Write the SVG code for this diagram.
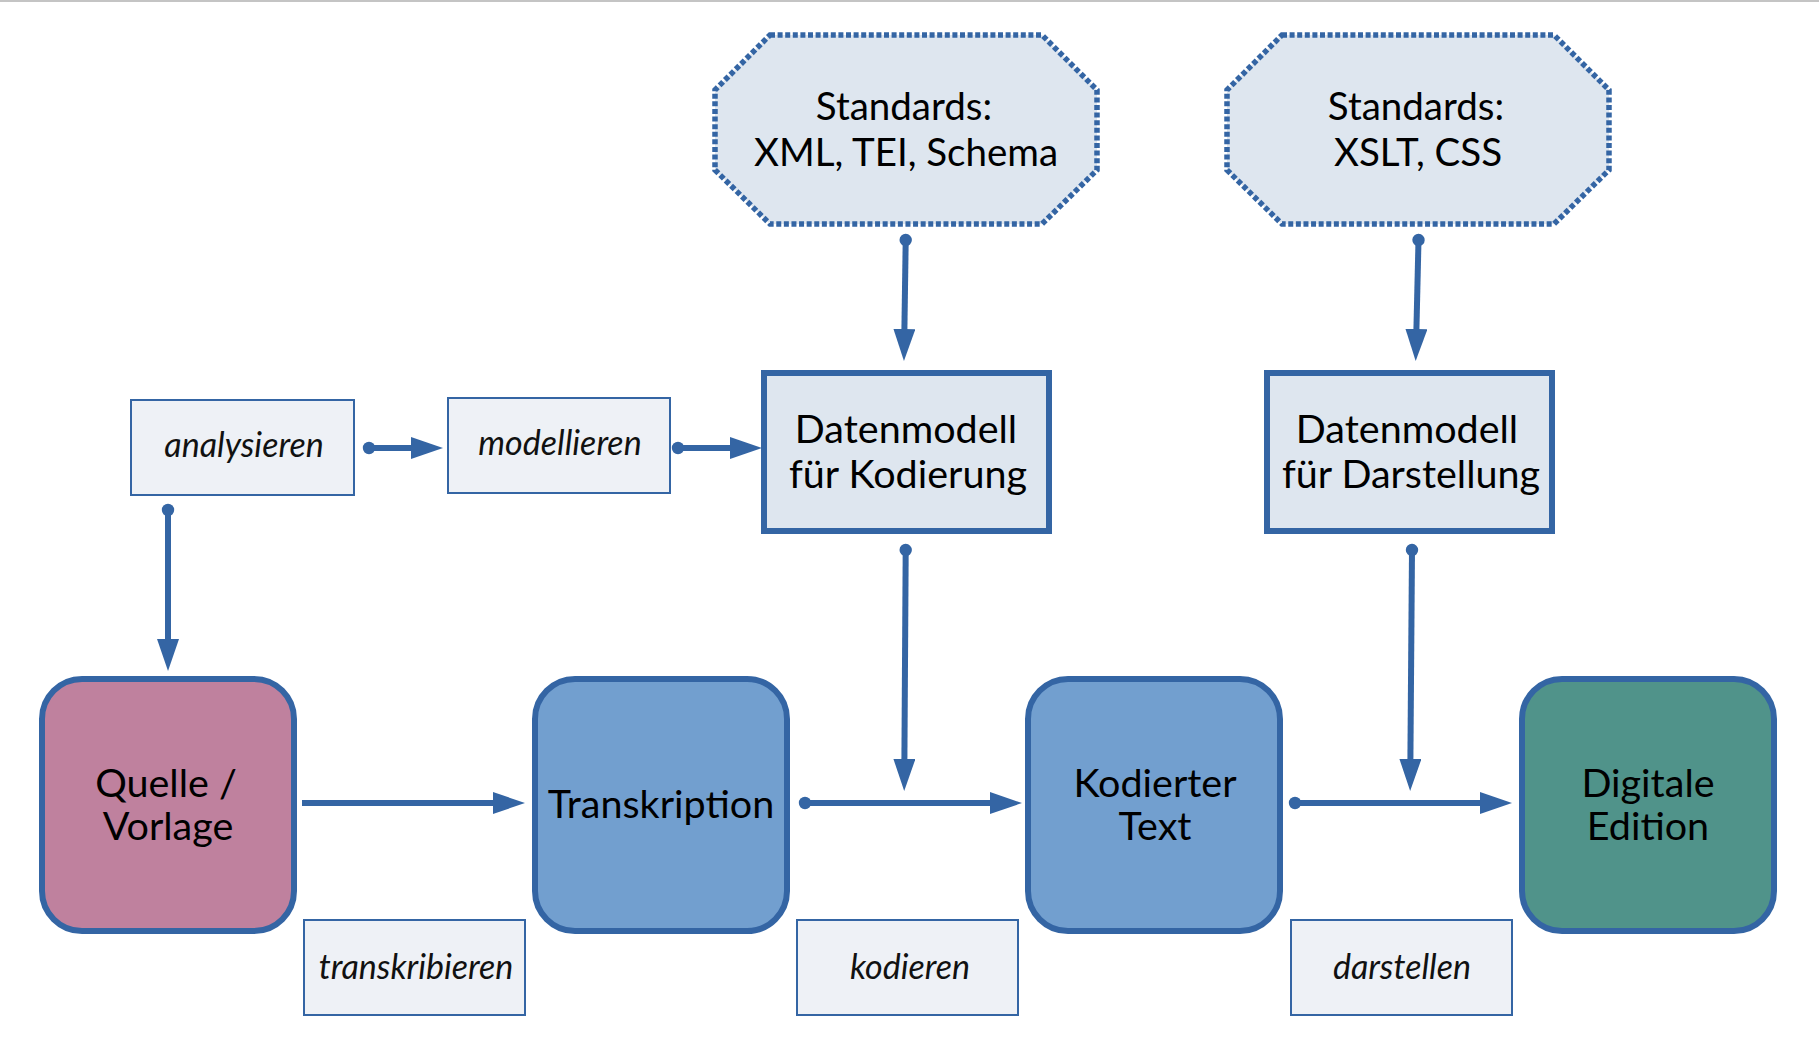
<svg xmlns="http://www.w3.org/2000/svg" width="1819" height="1055" viewBox="0 0 1819 1055">
<style>
.main{font-family:Lato,"Open Sans","Noto Sans",sans-serif;font-size:39.5px;fill:#000;text-anchor:middle}
.std{font-size:38.5px}
.lbl{font-family:Lato,"Open Sans","Noto Sans",sans-serif;font-style:italic;font-size:34px;fill:#111;text-anchor:middle}
.oct{fill:#dee6ef;stroke:#3465a4;stroke-width:5.5;stroke-dasharray:5 2.6}
.dm{fill:#dee6ef;stroke:#3465a4;stroke-width:6}
.act{fill:#eef1f6;stroke:#3465a4;stroke-width:2}
.bn{stroke:#3465a4;stroke-width:6}
.con{fill:none;stroke:#3465a4;stroke-width:6;marker-end:url(#arr)}
.dotted{marker-start:url(#dot)}
</style>
<defs>
<marker id="arr" markerUnits="userSpaceOnUse" markerWidth="32" markerHeight="22" viewBox="0 0 32 22" refX="1" refY="11" orient="auto"><path d="M0,0 L32,11 L0,22 z" fill="#3465a4"/></marker>
<marker id="dot" markerUnits="userSpaceOnUse" markerWidth="14" markerHeight="14" viewBox="0 0 14 14" refX="7" refY="7" orient="auto"><circle cx="7" cy="7" r="6.2" fill="#3465a4"/></marker>
</defs>
<rect x="0" y="0" width="1819" height="1055" fill="#fff"/>
<rect x="0" y="0" width="1819" height="2" fill="#c4c4c4"/>

<g id="std1">
<polygon class="oct" points="770,35 1042,35 1097,90 1097,170 1042,224 770,224 715,170 715,90"/>
<text class="main std" x="904" y="120">Standards:</text>
<text class="main std" x="906" y="166">XML, TEI, Schema</text>
</g>
<g id="std2">
<polygon class="oct" points="1282,35 1554,35 1609,90 1609,170 1554,224 1282,224 1227,170 1227,90"/>
<text class="main std" x="1416" y="120">Standards:</text>
<text class="main std" x="1418" y="166">XSLT, CSS</text>
</g>

<g id="dmk">
<rect class="dm" x="764" y="373" width="285" height="158"/>
<text class="main" x="906" y="443">Datenmodell</text>
<text class="main" x="908" y="488">für Kodierung</text>
</g>
<g id="dmd">
<rect class="dm" x="1267" y="373" width="285" height="158"/>
<text class="main" x="1407" y="443">Datenmodell</text>
<text class="main" x="1411" y="488">für Darstellung</text>
</g>

<g id="analysieren">
<rect class="act" x="131" y="400" width="223" height="95"/>
<text class="lbl" x="244" y="457">analysieren</text>
</g>
<g id="modellieren">
<rect class="act" x="448" y="398" width="222" height="95"/>
<text class="lbl" x="560" y="455">modellieren</text>
</g>

<g id="quelle">
<rect class="bn" fill="#bf819e" x="42" y="679" width="252" height="252" rx="40"/>
<text class="main" x="166" y="797">Quelle /</text>
<text class="main" x="168" y="840">Vorlage</text>
</g>
<g id="transkription">
<rect class="bn" fill="#729fcf" x="535" y="679" width="252" height="252" rx="40"/>
<text class="main" x="661" y="818">Transkription</text>
</g>
<g id="kodierter">
<rect class="bn" fill="#729fcf" x="1028" y="679" width="252" height="252" rx="40"/>
<text class="main" x="1155" y="797">Kodierter</text>
<text class="main" x="1155" y="840">Text</text>
</g>
<g id="digitale">
<rect class="bn" fill="#50938a" x="1522" y="679" width="252" height="252" rx="40"/>
<text class="main" x="1648" y="797">Digitale</text>
<text class="main" x="1648" y="840">Edition</text>
</g>

<g id="transkribieren">
<rect class="act" x="304" y="920" width="221" height="95"/>
<text class="lbl" x="416" y="979">transkribieren</text>
</g>
<g id="kodieren">
<rect class="act" x="797" y="920" width="221" height="95"/>
<text class="lbl" x="910" y="979">kodieren</text>
</g>
<g id="darstellen">
<rect class="act" x="1291" y="920" width="221" height="95"/>
<text class="lbl" x="1402" y="979">darstellen</text>
</g>

<g id="connectors">
<path class="con dotted" d="M168,510 L168,640"/>
<path class="con dotted" d="M369,448 L412,448"/>
<path class="con dotted" d="M678,448 L731,448"/>
<path class="con dotted" d="M905.7,240 L904.4,330"/>
<path class="con dotted" d="M1418.5,240 L1416.4,330"/>
<path class="con dotted" d="M905.7,550 L904.4,760"/>
<path class="con dotted" d="M1412,550 L1410.4,760"/>
<path class="con" d="M302,803 L494,803"/>
<path class="con dotted" d="M805,803 L991,803"/>
<path class="con dotted" d="M1295,803 L1481,803"/>
</g>
</svg>
